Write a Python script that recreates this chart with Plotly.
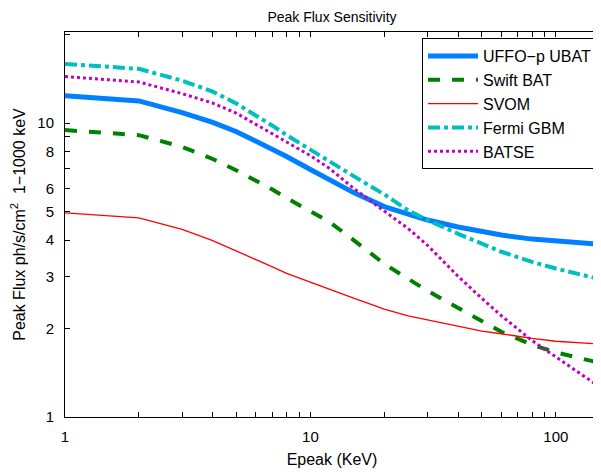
import plotly.graph_objects as go

epeak = [1, 2, 3, 4, 5, 6, 7, 8, 10, 12, 15, 20, 25, 30, 40, 50, 60, 80, 100, 150]

uffo = [12.4, 11.9, 10.85, 10.05, 9.35, 8.7, 8.15, 7.7, 6.95, 6.4, 5.8, 5.2, 4.88, 4.68, 4.43, 4.27, 4.16, 4.03, 3.96, 3.87]
swift = [9.47, 9.1, 8.3, 7.55, 6.9, 6.37, 5.94, 5.56, 5.0, 4.6, 4.0, 3.32, 2.95, 2.69, 2.35, 2.12, 1.95, 1.76, 1.66, 1.53]
svom = [4.95, 4.76, 4.35, 3.98, 3.67, 3.44, 3.24, 3.08, 2.87, 2.72, 2.54, 2.33, 2.21, 2.14, 2.03, 1.96, 1.92, 1.85, 1.81, 1.77]
fermi = [15.9, 15.3, 13.95, 12.8, 11.65, 10.65, 9.8, 9.1, 8.15, 7.4, 6.6, 5.72, 5.05, 4.68, 4.2, 3.88, 3.65, 3.37, 3.2, 2.95]
batse = [14.4, 13.8, 12.6, 11.7, 10.8, 9.9, 9.2, 8.6, 7.75, 7.0, 6.0, 5.02, 4.38, 3.84, 3.01, 2.53, 2.21, 1.82, 1.6, 1.27]

names = ["UFFO\u2212p UBAT", "Swift BAT", "SVOM", "Fermi GBM", "BATSE"]
series = [uffo, swift, svom, fermi, batse]
colors = ["#0080FF", "#008000", "#FF0000", "#00BFBF", "#BF00BF"]
dashes = ["solid", "dash", "solid", "dashdot", "dot"]
widths = [5, 4, 1.3, 4, 3]

x_tickvals = [1, 2, 3, 4, 5, 6, 7, 8, 9, 10, 20, 30, 40, 50, 60, 70, 80, 90, 100]
x_ticktext = ["1"] + [""] * 8 + ["10"] + [""] * 8 + ["100"]
y_tickvals = [1, 2, 3, 4, 5, 6, 7, 8, 9, 10, 20]
y_ticktext = ["1", "2", "3", "4", "5", "6", "", "8", "", "10", ""]

fig = go.Figure()
for n, s, c, d, w in zip(names, series, colors, dashes, widths):
    fig.add_trace(go.Scatter(x=epeak, y=s, mode="lines", name=n,
                             line=dict(color=c, dash=d, width=w)))

# page body has an 8px margin: figure sized/placed to compensate
W, H = 593, 468
font = "Liberation Sans, Arial, sans-serif"
fig.update_layout(
    width=W, height=H,
    margin=dict(l=57, r=2, t=24, b=59),
    paper_bgcolor="white", plot_bgcolor="white",
    font=dict(family=font, size=15, color="black"),
    title=dict(text="Peak Flux Sensitivity", x=324 / W, xanchor="center",
               y=1 - 9 / H, yanchor="middle", yref="container",
               font=dict(size=14, family=font, color="black")),
    showlegend=True,
    legend=dict(x=0.9963, xanchor="right", y=0.984, yanchor="top",
                bgcolor="white", bordercolor="black", borderwidth=1,
                itemwidth=50,
                font=dict(size=16, family=font), tracegroupgap=0),
)
fig.update_xaxes(type="log", range=[0, 2.176], showgrid=False, zeroline=False,
                 showline=True, linecolor="black", linewidth=1, mirror="ticks",
                 ticks="inside", ticklen=5, tickcolor="black", automargin=False,
                 tickmode="array", tickvals=x_tickvals, ticktext=x_ticktext,
                 ticklabelstandoff=6,
                 title=dict(text="Epeak (KeV)", standoff=9, font=dict(size=16)),
                 tickfont=dict(size=15))
fig.update_yaxes(type="log", range=[0, 1.31], showgrid=False, zeroline=False,
                 showline=True, linecolor="black", linewidth=1, mirror="ticks",
                 ticks="inside", ticklen=5, tickcolor="black", automargin=False,
                 tickmode="array", tickvals=y_tickvals, ticktext=y_ticktext,
                 ticklabelstandoff=7,
                 title=dict(text="Peak Flux ph/s/cm<sup>2</sup>\u00a0\u00a01\u22121000 keV", standoff=10,
                            font=dict(size=16)),
                 tickfont=dict(size=15))

fig.write_html("out.html")
